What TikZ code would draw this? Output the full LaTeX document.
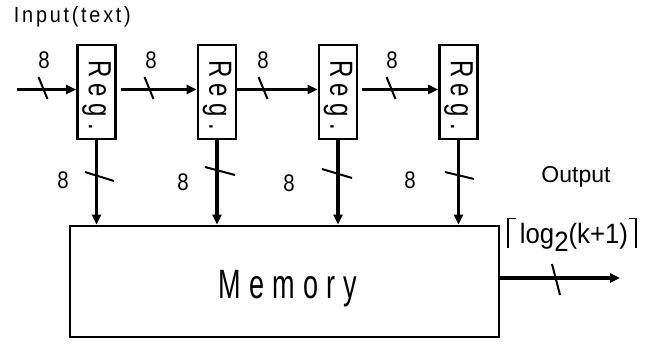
\documentclass[tikz,border=0pt]{standalone}
\usepackage{fontspec}
\setmainfont{Liberation Sans}
\usetikzlibrary{arrows.meta}
\newcommand{\regtxt}{\rotatebox{-90}{\fontsize{32}{32}\selectfont\scalebox{0.75}[1]{\addfontfeature{LetterSpace=27}Reg.\kern-8.6pt}}}
\newcommand{\eight}{\fontsize{24}{24}\selectfont\scalebox{0.85}[1]{8}}
\begin{document}
\begin{tikzpicture}[x=1pt,y=-1pt,
  reg/.style={draw,line width=2.8pt,minimum width=38pt,minimum height=94pt,inner sep=0pt},
  membox/.style={draw,line width=2.8pt,minimum width=429pt,minimum height=111pt,inner sep=0pt},
  bus/.style={line width=3.2pt,-{Triangle[length=10pt,width=9pt]}},
  tick/.style={line width=2pt},
  brk/.style={line width=1.3pt},
  lbl/.style={inner sep=0pt}]
\useasboundingbox (0,0) rectangle (652,345);

% registers
\node[reg] (r1) at (96.5,92) {\regtxt};
\node[reg] (r2) at (217,92) {\regtxt};
\node[reg] (r3) at (338,92) {\regtxt};
\node[reg] (r4) at (458.5,92) {\regtxt};

% memory
\node[membox] (mem) at (284.5,281.5) {};
\node[lbl,anchor=base] (memtxt) at (284,298) {\fontsize{41}{41}\selectfont\scalebox{0.66}[1]{\addfontfeature{LetterSpace=30}Memory\kern-12.3pt}};

% input text
\node[lbl,anchor=base] (intxt) at (71,23) {\fontsize{22}{22}\selectfont\scalebox{0.9}[1]{\addfontfeature{LetterSpace=14}Input(text)\kern-3.1pt}};

% horizontal buses
\coordinate (in) at (17,89.5);
\draw[bus] (in) -- (r1.west |- in);
\draw[bus,shorten <=4pt] (r1.east |- in) -- (r2.west |- in);
\draw[bus] (r2.east |- in) -- (r3.west |- in);
\draw[bus,shorten <=4pt] (r3.east |- in) -- (r4.west |- in);

% top ticks and labels
\foreach \x/\lx [count=\i] in {43/44, 149/151, 263/263, 391/392}{
  \draw[tick] (\x-4.5,77) -- (\x+4.5,99);
  \node[lbl] (t\i) at (\lx,60.5) {\eight};
}

% vertical buses
\foreach \r in {r1,r2,r3,r4}{
  \draw[bus] (\r.south) -- (\r.south |- mem.north);
}

% lower ticks
\draw[tick] (85,172) -- (114,181);
\draw[tick] (205,167) -- (235,175);
\draw[tick] (322,169) -- (352,178);
\draw[tick] (445,172) -- (474,179);
\node[lbl] (b1) at (63,180) {\eight};
\node[lbl] (b2) at (183,182) {\eight};
\node[lbl] (b3) at (289,183) {\eight};
\node[lbl] (b4) at (410,180) {\eight};

% output
\coordinate (out) at (620,278);
\draw[bus] (mem.east |- out) -- (out);
\draw[tick] (552,264) -- (560,295);
\node[lbl,anchor=base] (outtxt) at (576,182) {\fontsize{23}{23}\selectfont Output};
\node[lbl,anchor=base] (logtxt) at (574,243) {\fontsize{28}{28}\selectfont\scalebox{0.92}[1]{log\raisebox{-8pt}{2}(k+1)}};
\draw[brk] (508,248) -- (508,218.5) -- (516,218.5);
\draw[brk] (629,218.5) -- (636,218.5) -- (636,248);
\end{tikzpicture}
\end{document}
